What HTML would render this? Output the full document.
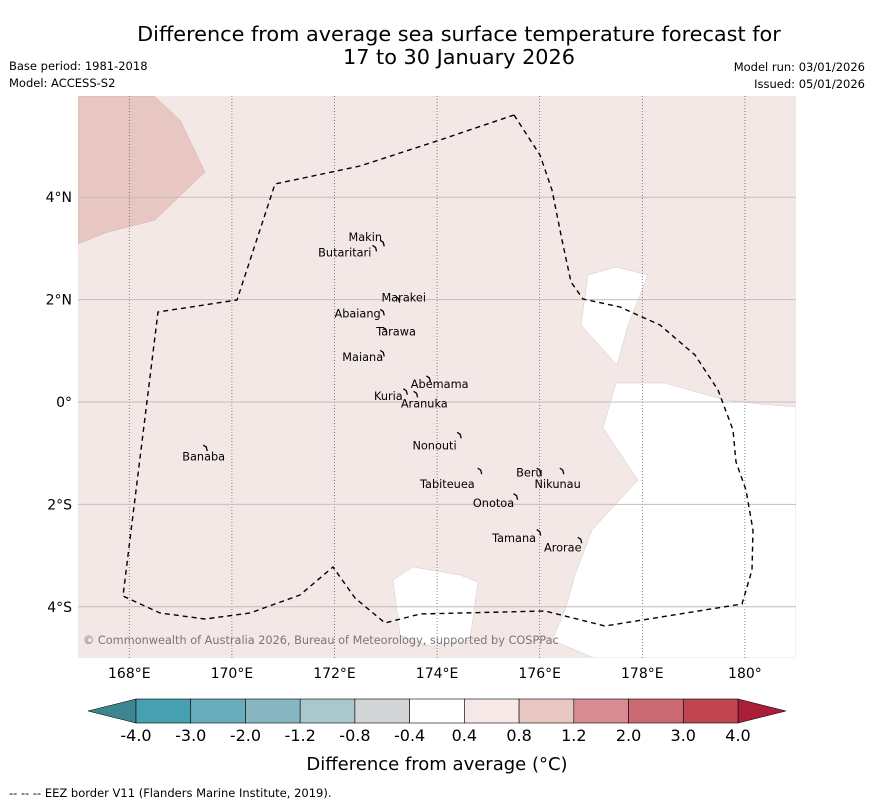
<!DOCTYPE html>
<html><head><meta charset="utf-8"><style>
body{margin:0;background:#fff;font-family:"Liberation Sans","DejaVu Sans",sans-serif}
svg text{font-family:"DejaVu Sans","Liberation Sans",sans-serif}
</style></head><body>
<svg id="c" width="873" height="804" xmlns="http://www.w3.org/2000/svg">
<text x="459" y="41" font-size="20.8" text-anchor="middle">Difference from average sea surface temperature forecast for</text>
<text x="459" y="64" font-size="20.8" text-anchor="middle">17 to 30 January 2026</text>
<text x="9" y="70" font-size="11.5">Base period: 1981-2018</text>
<text x="9" y="87" font-size="11.5">Model: ACCESS-S2</text>
<text x="865" y="71" font-size="11.5" text-anchor="end">Model run: 03/01/2026</text>
<text x="865" y="88" font-size="11.5" text-anchor="end">Issued: 05/01/2026</text>
<defs><clipPath id="mc"><rect x="78" y="96" width="718" height="562"/></clipPath></defs>
<g clip-path="url(#mc)">
<rect x="78" y="96" width="718" height="562" fill="#f4e8e6"/>
<polygon points="78,96 154,96 180,120 205,172 155,220 105,233 78,244" fill="#e8c6c1" stroke="#d8b0ab" stroke-width="0.5"/>
<polygon points="588,275 616,267 648,275 628,325 617,365 581,325" fill="#fff" stroke="#ccc" stroke-width="0.5"/>
<polygon points="616,383 665,383 725,400 760,404 796,407 796,658 594,658 552,640 565,610 575,575 592,530 638,480 603,428" fill="#fff" stroke="#ccc" stroke-width="0.5"/>
<polygon points="393,580 413,567 460,575 478,582 470,640 430,646 400,635" fill="#fff" stroke="#ccc" stroke-width="0.5"/>
<g id="grid"></g>
<polyline points="514,115 540,155 552,190 562,240 571,282 583,299 620,307 660,325 695,355 718,390 733,430 736,462 746,490 753,530 752,570 742,604 605,626 545,611 420,614 385,623 355,598 333,567 300,595 250,613 205,619 160,613 123,596 158,312 237,300 275,184 360,166 440,140 514,115" fill="none" stroke="#000" stroke-width="1.4" stroke-dasharray="5,4"/>
<text x="83" y="644" font-size="11.3" fill="#777">© Commonwealth of Australia 2026, Bureau of Meteorology, supported by COSPPac</text>
</g>
<g id="islands" font-size="11.3"></g>
<g id="axes" font-size="14"></g>
<g id="cbar"></g>
<text x="437" y="770" font-size="18" text-anchor="middle">Difference from average (°C)</text>
<text x="9" y="797" font-size="11.5">--  --  -- EEZ border V11 (Flanders Marine Institute, 2019).</text>
</svg>
<script>
const lonTicks=[168,170,172,174,176,178,180];
const lonLabels=["168°E","170°E","172°E","174°E","176°E","178°E","180°"];
const latTicks=[4,2,0,-2,-4];
const latLabels=["4°N","2°N","0°","2°S","4°S"];
const cbTicks=["-4.0","-3.0","-2.0","-1.2","-0.8","-0.4","0.4","0.8","1.2","2.0","3.0","4.0"];
const cbColors=["#46a0b0","#69acbb","#88b6c0","#a8c8cc","#d4d5d6","#ffffff","#f5e8e6","#e8c6c1","#d98b93","#cc6a73","#c0454f"];
const islandNames=["Makin","Butaritari","Marakei","Abaiang","Tarawa","Maiana","Abemama","Kuria","Aranuka","Nonouti","Banaba","Beru","Nikunau","Tabiteuea","Onotoa","Tamana","Arorae"];
const islandLon=[172.95,172.8,173.25,172.95,173.0,172.95,173.85,173.4,173.6,174.45,169.5,176.0,176.45,174.85,175.55,176.0,176.8];
const islandLat=[3.1,3.0,2.0,1.75,1.4,0.95,0.45,0.2,0.15,-0.65,-0.9,-1.35,-1.35,-1.35,-1.85,-2.55,-2.7];
const labelLon=[172.6,172.2,173.35,172.45,173.2,172.55,174.05,173.05,173.75,173.95,169.45,175.8,176.35,174.2,175.1,175.5,176.45];
const labelLat=[3.22,2.92,2.04,1.73,1.38,0.88,0.35,0.12,-0.03,-0.85,-1.06,-1.38,-1.6,-1.6,-1.97,-2.66,-2.84];
const ns="http://www.w3.org/2000/svg";
const X=lon=>78+(lon-167)*51.3, Y=lat=>402-lat*51.2;
function mk(p,t,a){const e=document.createElementNS(ns,t);for(const k in a)e.setAttribute(k,a[k]);p.appendChild(e);return e;}
const grid=document.getElementById('grid'),axes=document.getElementById('axes');
lonTicks.forEach((v,i)=>{
 const l=mk(grid,'line',{x1:X(v),x2:X(v),y1:96,y2:658,stroke:'#555','stroke-width':0.7,'stroke-dasharray':'1,2'});
 
 
 const t=mk(axes,'text',{x:X(v),y:678,'text-anchor':'middle'});t.textContent=lonLabels[i];
 
 
});
latTicks.forEach((v,i)=>{
 const l=mk(grid,'line',{x1:78,x2:796,y1:Y(v),y2:Y(v),stroke:'#c8bcbc','stroke-width':1});
 
 
 const t=mk(axes,'text',{x:72,y:Y(v)+5,'text-anchor':'end'});t.textContent=latLabels[i];
 
 
});
const isl=document.getElementById('islands');
islandNames.forEach((n,i)=>{
 const x=X(islandLon[i]),y=Y(islandLat[i]);
 const p=mk(isl,'path',{d:`M${x-3},${y-3} l3,2 l1,4`,fill:'none',stroke:'#000','stroke-width':1.3});
 
 
 const t=mk(isl,'text',{x:X(labelLon[i]),y:Y(labelLat[i])+4,'text-anchor':'middle'});t.textContent=n;
 
 
});
const cb=document.getElementById('cbar');
const x0=136,x1=738,w=(x1-x0)/cbColors.length;
const lt=mk(cb,'polygon',{points:`88,711 ${x0},699 ${x0},723`,fill:'#3d8590',stroke:'#000','stroke-width':0.6});


const rt=mk(cb,'polygon',{points:`786,711 ${x1},699 ${x1},723`,fill:'#aa1e3a',stroke:'#000','stroke-width':0.6});


cbColors.forEach((c,i)=>{
 const r=mk(cb,'rect',{x:x0+i*w,y:699,width:w,height:24,fill:c,stroke:'#000','stroke-width':0.6});
 
 
});
cbTicks.forEach((s,i)=>{
 const t=mk(cb,'text',{x:x0+i*w,y:741,'text-anchor':'middle','font-size':16});t.textContent=s;
 
 
});
</script>
</body></html>
